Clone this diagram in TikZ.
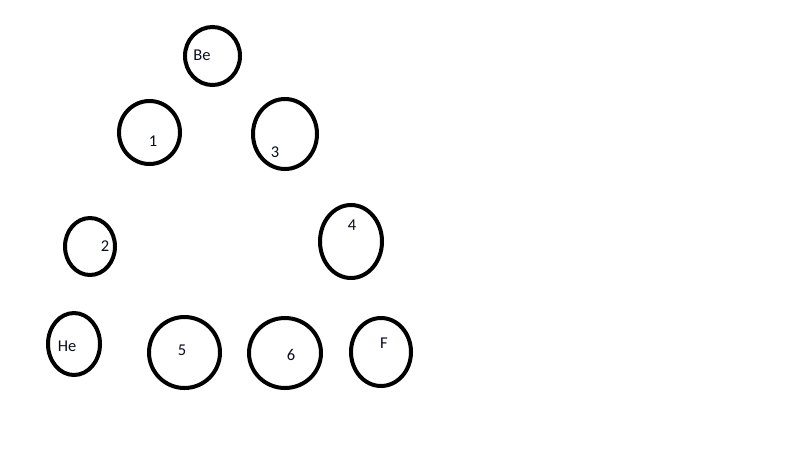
\documentclass[tikz,border=0pt]{standalone}
\usepackage{fontspec}
\setmainfont{Carlito}
\usetikzlibrary{shapes.geometric}
\definecolor{labelink}{RGB}{8,12,36}
\begin{document}
\begin{tikzpicture}[x=1pt,y=-1pt,
  ring/.style={draw=black,line width=4pt,ellipse,inner sep=0pt,outer sep=0pt},
  lbl/.style={inner sep=0pt,text height=10.5pt,text depth=0pt,text=labelink,font=\fontsize{16.5}{19}\selectfont}]
\useasboundingbox[fill=white] (0,0) rectangle (794,456);
\node[ring,minimum width=55pt,minimum height=58pt] (cBe) at (212.5,56) {};
\node[ring,minimum width=61pt,minimum height=63pt] (c1) at (149.5,132.5) {};
\node[ring,minimum width=64pt,minimum height=70pt] (c3) at (285,134) {};
\node[ring,minimum width=50pt,minimum height=57pt] (c2) at (90,246.5) {};
\node[ring,minimum width=62pt,minimum height=73pt] (c4) at (351,241.5) {};
\node[ring,minimum width=52pt,minimum height=62pt] (cHe) at (74,344) {};
\node[ring,minimum width=71pt,minimum height=71pt] (c5) at (184.5,352.5) {};
\node[ring,minimum width=72pt,minimum height=70pt] (c6) at (285,353) {};
\node[ring,minimum width=60pt,minimum height=68pt] (cF) at (381,352) {};
\node[lbl] (tBe) at (202,55) {Be};
\node[lbl] (t1) at (153,141) {1};
\node[lbl] (t3) at (275,152) {3};
\node[lbl] (t2) at (105,246) {2};
\node[lbl] (t4) at (352,225) {4};
\node[lbl] (tHe) at (67,346) {He};
\node[lbl] (t5) at (182,350) {5};
\node[lbl] (t6) at (291,355) {6};
\node[lbl] (tF) at (384,343) {F};
\end{tikzpicture}
\end{document}
